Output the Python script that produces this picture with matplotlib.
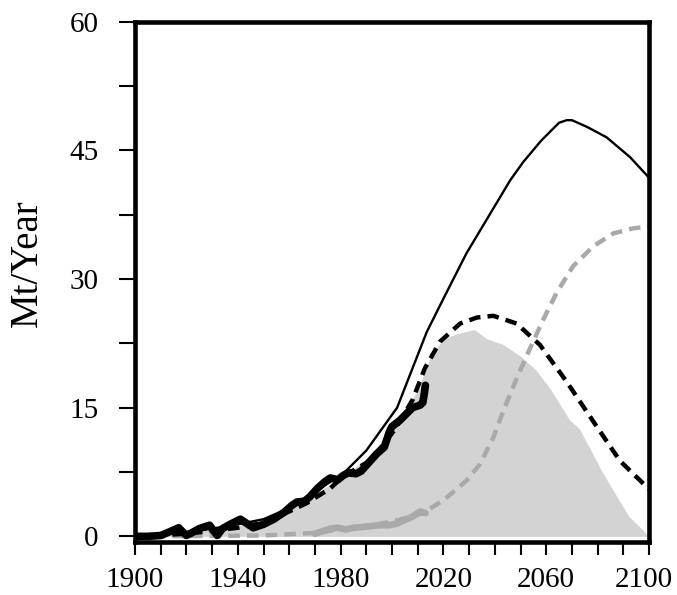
import matplotlib
matplotlib.use("Agg")
import matplotlib.pyplot as plt
from matplotlib.ticker import MultipleLocator
from matplotlib.transforms import ScaledTranslation

# observed primary production (thick black)
hist_years = [1900, 1905, 1910, 1914, 1917, 1920, 1922, 1925, 1929, 1932, 1934, 1937,
              1941, 1943, 1946, 1950, 1954, 1958, 1961, 1963, 1966, 1968, 1971, 1974,
              1976, 1979, 1981, 1983, 1986, 1988, 1991, 1994, 1997, 1999, 2000, 2003,
              2006, 2008, 2010, 2011, 2012, 2012.5, 2013]
hist_vals = [0.0, 0.0, 0.1, 0.6, 1.0, 0.1, 0.4, 0.9, 1.3, 0.1, 0.9, 1.4,
             2.0, 1.6, 1.0, 1.4, 2.0, 2.8, 3.6, 4.0, 4.1, 4.6, 5.6, 6.4,
             6.8, 6.6, 7.1, 7.4, 7.3, 7.6, 8.6, 9.6, 10.4, 12.2, 12.8, 13.5,
             14.4, 15.0, 15.2, 15.3, 15.6, 16.5, 17.6]

# observed secondary production (thick grey)
sec_years = [1970, 1973, 1976, 1979, 1982, 1985, 1989, 1992, 1995, 1999, 2002, 2005,
             2008, 2011, 2013]
sec_vals = [0.3, 0.6, 0.9, 1.0, 0.8, 1.0, 1.1, 1.2, 1.3, 1.3, 1.5, 1.9,
            2.3, 2.9, 2.7]

# modelled total demand (thin black)
tot_years = [1900, 1910, 1920, 1930, 1940, 1950, 1960, 1970, 1981, 1990, 1996, 2002,
             2008, 2013.5, 2020, 2029, 2046, 2051, 2058, 2065, 2068, 2070, 2076, 2083.5,
             2092.6, 2100]
tot_vals = [0.0, 0.2, 0.5, 0.9, 1.4, 2.0, 3.3, 5.2, 7.3, 10.0, 12.5, 15.0,
            19.6, 23.8, 27.7, 33.0, 41.5, 43.6, 46.1, 48.2, 48.5, 48.5, 47.7, 46.5,
            44.2, 41.8]

# modelled primary production (black dashed)
prim_years = [1900, 1920, 1940, 1950, 1960, 1967, 1976, 1981, 1992, 2001, 2008, 2012.8,
              2018.7, 2026.5, 2033, 2039.4, 2048.5, 2057.6, 2068, 2078.3, 2088.7, 2100]
prim_vals = [0.0, 0.3, 1.0, 1.6, 2.9, 3.9, 5.6, 7.0, 8.9, 12.4, 15.9, 19.6,
             22.7, 24.8, 25.5, 25.7, 24.8, 22.3, 18.0, 13.4, 8.8, 5.5]

# modelled secondary production (grey dashed)
rec_years = [1900, 1950, 1970, 1990, 2000, 2012, 2020, 2029, 2034.2, 2039.4, 2043.3,
             2048.5, 2053.7, 2058.9, 2064.1, 2070.5, 2078.3, 2086.1, 2093.9, 2100]
rec_vals = [0.0, 0.1, 0.4, 1.2, 1.7, 2.7, 4.2, 6.5, 8.4, 11.5, 14.6,
            18.4, 21.9, 25.3, 28.4, 31.5, 33.8, 35.3, 35.9, 36.1]

# shaded area
fill_years = [1900, 1920, 1940, 1960, 1970, 1980, 1990, 2000, 2010, 2015, 2020, 2025,
              2032, 2037, 2043, 2050, 2056, 2062, 2069, 2073, 2082, 2092, 2100]
fill_vals = [0.0, 0.5, 1.2, 3.0, 5.0, 6.8, 9.0, 12.5, 17.0, 21.0, 23.0, 23.6,
             24.1, 23.0, 22.4, 21.0, 19.4, 17.0, 13.6, 12.5, 7.4, 2.4, 0.0]

plt.rcParams["font.family"] = ["Liberation Serif", "DejaVu Serif"]

fig = plt.figure(figsize=(6.77, 5.95), dpi=100)
ax = fig.add_axes([135 / 677, 1 - 541.5 / 595, 514 / 677, 520 / 595])

ax.fill_between(fill_years, fill_vals, 0, color="#d3d3d3", lw=0, zorder=1)
ax.plot(rec_years, rec_vals, color="#a9a9a9", lw=3.2, ls=(0, (2.6, 1.6)), zorder=2)
ax.plot(sec_years, sec_vals, color="#a9a9a9", lw=4.8, solid_joinstyle="round",
        solid_capstyle="round", zorder=3)
ax.plot(prim_years, prim_vals, color="black", lw=3.2, ls=(0, (2.6, 1.6)), zorder=4)
ax.plot(tot_years, tot_vals, color="black", lw=1.7, zorder=5)
ax.plot(hist_years, hist_vals, color="black", lw=5.5, solid_joinstyle="round",
        solid_capstyle="round", zorder=6)

ax.set_xlim(1900, 2100)
ax.set_ylim(-0.6, 60)
ax.set_xticks([1900, 1940, 1980, 2020, 2060, 2100])
ax.xaxis.set_minor_locator(MultipleLocator(10))
ax.set_yticks([0, 15, 30, 45, 60])
ax.yaxis.set_minor_locator(MultipleLocator(7.5))

for s in ax.spines.values():
    s.set_linewidth(3.3)
    s.set_zorder(10)
ax.tick_params(axis="x", which="both", direction="out", length=9.7, width=1.5,
               pad=9, labelsize=21)
ax.tick_params(axis="y", which="both", direction="out", length=11.3, width=1.5,
               pad=15, labelsize=21)
ax.tick_params(which="minor", labelleft=False, labelbottom=False)

# last year label sits a little left of its tick, as in the original
last = ax.get_xticklabels()[-1]
last.set_transform(last.get_transform() + ScaledTranslation(-5.5 / 100, 0, fig.dpi_scale_trans))

fig.text(27.5 / 677, 1 - 263.5 / 595, "Mt/Year", rotation=90, ha="center", va="center",
         fontsize=28)

fig.savefig("out.png", dpi=100)
